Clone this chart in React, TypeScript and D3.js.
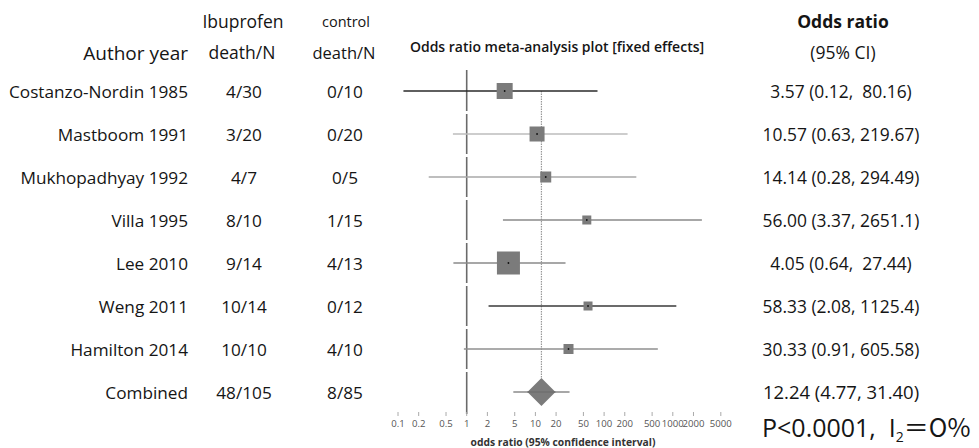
import React from "react";
import * as d3 from "d3";

const studies = ["Costanzo-Nordin 1985", "Mastboom 1991", "Mukhopadhyay 1992", "Villa 1995", "Lee 2010", "Weng 2011", "Hamilton 2014"];
const ibuprofen = ["4/30", "3/20", "4/7", "8/10", "9/14", "10/14", "10/10"];
const control = ["0/10", "0/20", "0/5", "1/15", "4/13", "0/12", "4/10"];
const orValues = [3.57, 10.57, 14.14, 56.0, 4.05, 58.33, 30.33];
const ciLow = [0.12, 0.63, 0.28, 3.37, 0.64, 2.08, 0.91];
const ciHigh = [80.16, 219.67, 294.49, 2651.1, 27.44, 1125.4, 605.58];
const orLabels = ["3.57 (0.12,  80.16)", "10.57 (0.63, 219.67)", "14.14 (0.28, 294.49)", "56.00 (3.37, 2651.1)", "4.05 (0.64,  27.44)", "58.33 (2.08, 1125.4)", "30.33 (0.91, 605.58)"];
const weights = [16, 15, 11, 9, 23, 9, 10];
const lineColors = ["#2a2a2a", "#bdbdbd", "#a8a8a8", "#8a8a8a", "#8a8a8a", "#3a3a3a", "#8f8f8f"];

const combinedOR = 12.24;
const combinedLow = 4.77;
const combinedHigh = 31.4;
const combinedIbu = "48/105";
const combinedCtrl = "8/85";
const combinedLabel = "12.24 (4.77, 31.40)";

const ticks = [0.1, 0.2, 0.5, 1, 2, 5, 10, 20, 50, 100, 200, 500, 1000, 2000, 5000];

const FONT = "'Open Sans', 'Noto Sans', sans-serif";

export default function App() {
  const x = d3.scaleLog().domain([0.1, 1000]).range([398, 672.8]);
  const rowNames = [...studies, "Combined"];
  const y = d3.scalePoint<string>().domain(rowNames).range([91, 392]);
  const band = 43;
  const textColor = "#151515";

  const x1 = x(1);
  const segs = rowNames.map((r, i) => {
    const yc = y(r)!;
    const top = i === 0 ? 70 : yc - band / 2 + 1.5;
    const bottom = i === rowNames.length - 1 ? 414 : yc + band / 2 - 1.5;
    return [top, bottom];
  });

  const cx = x(combinedOR);
  const cy = y("Combined")!;

  return (
    <svg width={979} height={448} style={{ position: "absolute", left: 0, top: 0, background: "#fff" }} fontFamily={FONT}>
      {/* headers */}
      <text x={188} y={60} textAnchor="end" fontSize={19} fill={textColor}>Author year</text>
      <text x={243} y={28} textAnchor="middle" fontSize={17.5} fill={textColor}>Ibuprofen</text>
      <text x={242} y={59} textAnchor="middle" fontSize={17.5} fill={textColor}>death/N</text>
      <text x={346} y={27} textAnchor="middle" fontSize={14.5} fill={textColor}>control</text>
      <text x={344} y={59} textAnchor="middle" fontSize={16.5} fill={textColor}>death/N</text>
      <text x={557} y={52} textAnchor="middle" fontSize={14} fontWeight={600} fill={textColor}>Odds ratio meta-analysis plot [fixed effects]</text>
      <text x={843} y={28} textAnchor="middle" fontSize={17.5} fontWeight={700} fill={textColor}>Odds ratio</text>
      <text x={843} y={59} textAnchor="middle" fontSize={17.5} fill={textColor}>(95% CI)</text>

      {/* rows text */}
      {rowNames.map((r, i) => {
        const yc = y(r)! + 6.5;
        const isC = i === studies.length;
        return (
          <g key={r}>
            <text x={188} y={yc} textAnchor="end" fontSize={17.2} fill={textColor}>{r}</text>
            <text x={244} y={yc} textAnchor="middle" fontSize={17.2} fill={textColor}>{isC ? combinedIbu : ibuprofen[i]}</text>
            <text x={345} y={yc} textAnchor="middle" fontSize={17.2} fill={textColor}>{isC ? combinedCtrl : control[i]}</text>
            <text x={841} y={yc} textAnchor="middle" fontSize={isC ? 18.5 : 17.4} fill={textColor} style={{ whiteSpace: "pre" }}>{isC ? combinedLabel : orLabels[i]}</text>
          </g>
        );
      })}

      {/* null line */}
      {segs.map(([a, b], i) => (
        <line key={i} x1={x1} x2={x1} y1={a} y2={b} stroke="#6a6a6a" strokeWidth={1.6} />
      ))}
      {/* combined dotted line */}
      <line x1={cx} x2={cx} y1={y(studies[0])!} y2={cy - 14} stroke="#9a9a9a" strokeWidth={1.2} strokeDasharray="1.5,1" />

      {/* studies */}
      {studies.map((s, i) => {
        const yc = y(s)!;
        const px = x(orValues[i]);
        const w = weights[i];
        return (
          <g key={s}>
            <line x1={x(ciLow[i])} x2={x(ciHigh[i])} y1={yc} y2={yc} stroke={lineColors[i]} strokeWidth={1.3} />
            <rect x={px - w / 2} y={yc - w / 2} width={w} height={w} fill="#7b7b7b" />
            <circle cx={px} cy={yc} r={0.9} fill="#111" />
          </g>
        );
      })}

      {/* combined */}
      <line x1={x(combinedLow)} x2={x(combinedHigh)} y1={cy} y2={cy} stroke="#8a8a8a" strokeWidth={1.3} />
      <path d={`M${cx},${cy - 14} L${cx + 14},${cy} L${cx},${cy + 14} L${cx - 14},${cy} Z`} fill="#7b7b7b" />
      <line x1={cx - 14} x2={cx + 14} y1={cy} y2={cy} stroke="#6a6a6a" strokeWidth={1} />

      {/* axis */}
      {ticks.map((t) => (
        <g key={t}>
          <line x1={x(t)} x2={x(t)} y1={412} y2={416} stroke="#aaa" strokeWidth={1} />
          <text x={x(t)} y={427} textAnchor="middle" fontSize={9.6} fill="#555">{String(t)}</text>
        </g>
      ))}
      <text x={563} y={446} textAnchor="middle" fontSize={10.3} fontWeight={700} fill="#333">odds ratio (95% confidence interval)</text>

      {/* stats */}
      <text x={762} y={437} fontSize={25} fill={textColor} style={{ whiteSpace: "pre" }}>
        {"P<0.0001,  I"}
        <tspan fontSize={14} dy={5}>2</tspan>
        <tspan dy={-5} fontFamily="'Noto Sans CJK JP', sans-serif">＝O%</tspan>
      </text>
    </svg>
  );
}
